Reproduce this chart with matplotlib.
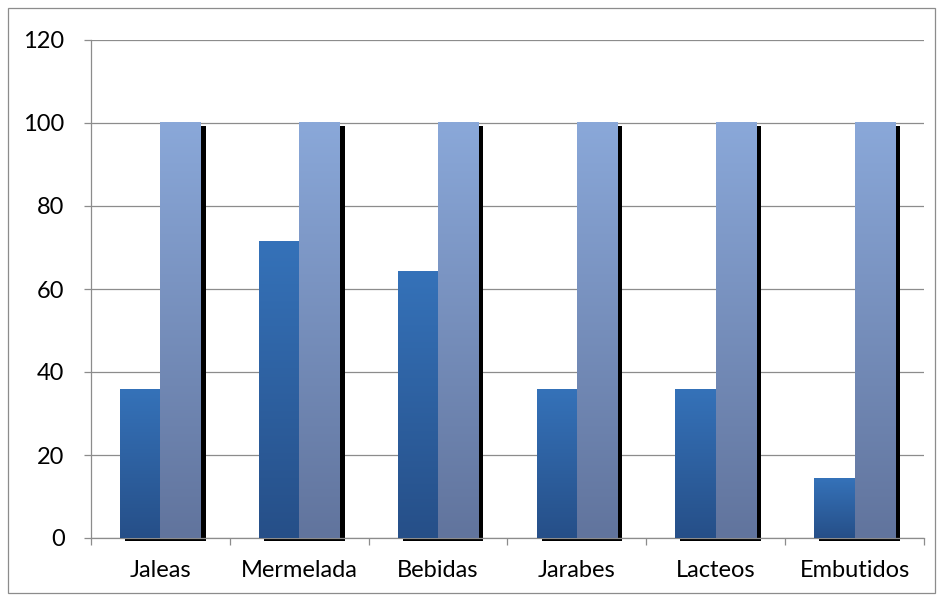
import numpy as np
import matplotlib.pyplot as plt
import matplotlib.patheffects as pe
from matplotlib.colors import LinearSegmentedColormap
from matplotlib.patches import Rectangle

categorias = ["Jaleas", "Mermelada", "Bebidas", "Jarabes", "Lacteos", "Embutidos"]
serie_1 = [35.7, 71.4, 64.3, 35.7, 35.7, 14.3]
serie_2 = [100, 100, 100, 100, 100, 100]

plt.rcParams['font.family'] = ['Lato', 'DejaVu Sans']

fig = plt.figure(figsize=(9.4, 5.98), dpi=100)
ax = fig.add_axes([91 / 940, 60 / 598, 833 / 940, 498 / 598])

x = np.arange(len(categorias))
w = 0.29

sombra = [pe.SimplePatchShadow(offset=(3.6, -2.2), shadow_rgbFace='black', alpha=1.0), pe.Normal()]
b1 = ax.bar(x - w / 2, serie_1, w, facecolor='none', edgecolor='none', zorder=2,
            path_effects=sombra, clip_on=False)
b2 = ax.bar(x + w / 2, serie_2, w, facecolor='none', edgecolor='none', zorder=2,
            path_effects=sombra, clip_on=False)

# degradado vertical dentro de cada barra
cmap1 = LinearSegmentedColormap.from_list('s1', ['#264f88', '#3572b9'])
cmap2 = LinearSegmentedColormap.from_list('s2', ['#61749d', '#8aa8d9'])
grad = np.linspace(0, 1, 256).reshape(-1, 1)
for barras, cmap in ((b1, cmap1), (b2, cmap2)):
    for p in barras:
        x0, y0 = p.get_x(), p.get_y()
        ax.imshow(grad, cmap=cmap, origin='lower', aspect='auto', zorder=3,
                  extent=(x0, x0 + p.get_width(), y0, y0 + p.get_height()),
                  interpolation='bilinear')

ax.set_xlim(-0.5, len(categorias) - 0.5)
ax.set_ylim(0, 120)
ax.set_yticks(range(0, 121, 20))
ax.set_xticks(x)
ax.set_xticklabels(categorias)
ax.set_xticks(np.arange(-0.5, len(categorias), 1), minor=True)

ax.grid(axis='y', color='#8c8c8c', linewidth=0.9, zorder=1)
ax.set_axisbelow(True)
for s in ('top', 'right'):
    ax.spines[s].set_visible(False)
for s in ('left', 'bottom'):
    ax.spines[s].set_color('#8c8c8c')
    ax.spines[s].set_linewidth(0.9)

ax.tick_params(axis='y', length=5, width=0.9, color='#8c8c8c', pad=14, labelsize=17)
ax.tick_params(axis='x', which='major', length=0, pad=16, labelsize=17)
ax.tick_params(axis='x', which='minor', length=5, width=0.9, color='#8c8c8c')

# marco exterior del grafico
fig.patches.append(Rectangle((8 / 940, 5 / 598), 927 / 940, 585 / 598, transform=fig.transFigure,
                             fill=False, edgecolor='#8c8c8c', linewidth=0.9))

fig.savefig('out.png', dpi=100)
